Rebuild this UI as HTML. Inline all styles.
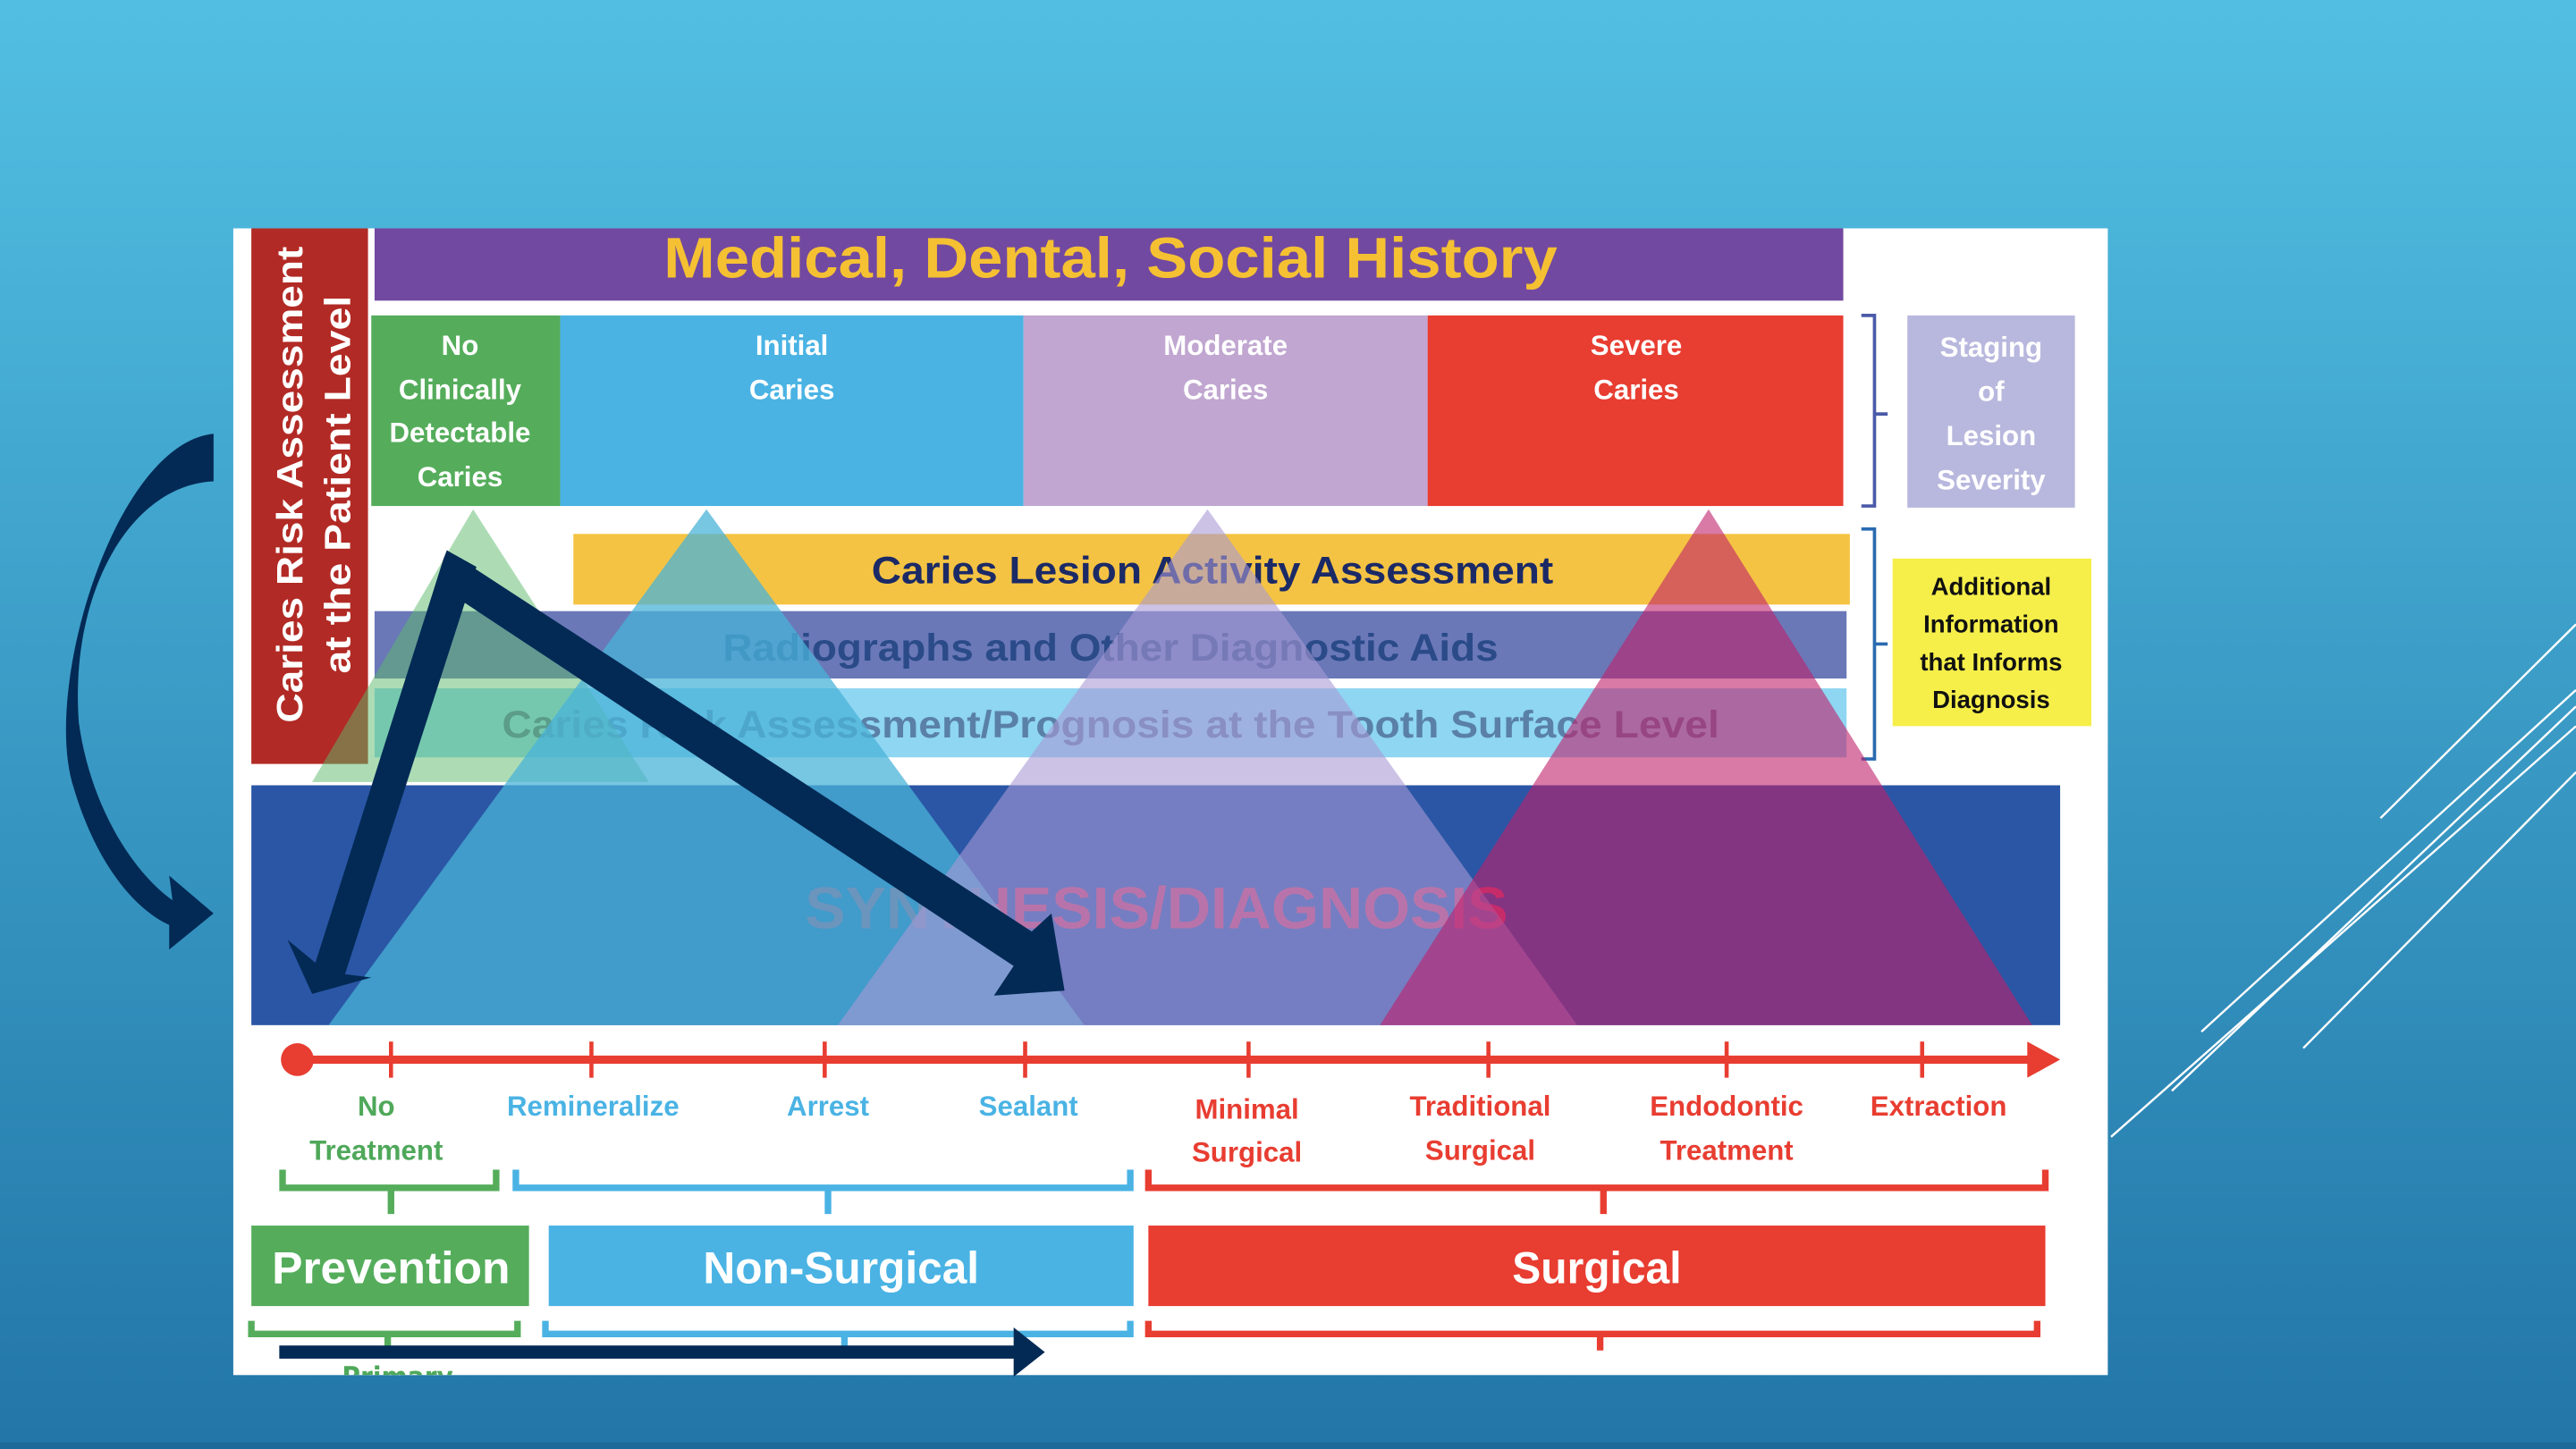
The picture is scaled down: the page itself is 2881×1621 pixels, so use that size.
<!DOCTYPE html>
<html><head><meta charset="utf-8"><style>
html,body{margin:0;padding:0;width:2881px;height:1621px;overflow:hidden}
svg{display:block}
text{font-family:"Liberation Sans",sans-serif}
.c{font-family:"DejaVu Sans Condensed","DejaVu Sans",sans-serif;font-weight:bold}
</style></head><body>
<svg width="2881" height="1621" viewBox="0 0 1568 882" preserveAspectRatio="none" xmlns="http://www.w3.org/2000/svg">
<defs>
<linearGradient id="bg" x1="0" y1="0" x2="0" y2="1">
<stop offset="0" stop-color="#52bfe2"/><stop offset="1" stop-color="#2276a8"/>
</linearGradient>
<clipPath id="pc"><rect x="0" y="0" width="1568" height="837"/></clipPath>
</defs>
<rect width="1568" height="882" fill="url(#bg)"/>
<rect x="0" y="878" width="1568" height="4" fill="#1d6a9a"/>
<g stroke="#fff" stroke-width="1.3">
<line x1="1568" y1="380" x2="1449" y2="498"/>
<line x1="1568" y1="420" x2="1340" y2="628"/>
<line x1="1568" y1="430" x2="1322" y2="664"/>
<line x1="1568" y1="442" x2="1285" y2="692"/>
<line x1="1568" y1="470" x2="1402" y2="638"/>
</g>
<rect x="142" y="139" width="1141" height="698" fill="#fff"/>
<rect x="153" y="139" width="71" height="326" fill="#b22a25"/>
<text transform="translate(184,295) rotate(-90)" text-anchor="middle" font-size="22" font-weight="bold" fill="#fff" textLength="290" lengthAdjust="spacingAndGlyphs">Caries Risk Assessment</text>
<text transform="translate(213,295) rotate(-90)" text-anchor="middle" font-size="22" font-weight="bold" fill="#fff" textLength="230" lengthAdjust="spacingAndGlyphs">at the Patient Level</text>
<rect x="228" y="139" width="894" height="44" fill="#7249a0"/>
<text x="676" y="169" text-anchor="middle" font-size="35" font-weight="bold" fill="#f5c132" textLength="544" lengthAdjust="spacingAndGlyphs">Medical, Dental, Social History</text>
<rect x="226" y="192" width="115" height="116" fill="#55ad5b"/>
<rect x="341" y="192" width="282" height="116" fill="#4ab3e4"/>
<rect x="623" y="192" width="246" height="116" fill="#c0a6d0"/>
<rect x="869" y="192" width="253" height="116" fill="#e83d31"/>
<g class="c" font-size="17" fill="#fff" text-anchor="middle">
<text x="280" y="216">No</text><text x="280" y="243">Clinically</text><text x="280" y="269">Detectable</text><text x="280" y="296">Caries</text>
<text x="482" y="216">Initial</text><text x="482" y="243">Caries</text>
<text x="746" y="216">Moderate</text><text x="746" y="243">Caries</text>
<text x="996" y="216">Severe</text><text x="996" y="243">Caries</text>
</g>
<path d="M1133 192 h8 v116 h-8 M1141 252 h8" fill="none" stroke="#4a5aa8" stroke-width="2"/>
<path d="M1133 322 h8 v140 h-8 M1141 392 h8" fill="none" stroke="#2a6ab0" stroke-width="2"/>
<rect x="1161" y="192" width="102" height="117" fill="#b8b8de"/>
<g class="c" font-size="17" fill="#fff" text-anchor="middle">
<text x="1212" y="217">Staging</text><text x="1212" y="244">of</text><text x="1212" y="271">Lesion</text><text x="1212" y="298">Severity</text>
</g>
<rect x="1152" y="340" width="121" height="102" fill="#f6ef4a"/>
<g class="c" font-size="15" fill="#111" text-anchor="middle">
<text x="1212" y="362">Additional</text><text x="1212" y="385">Information</text><text x="1212" y="408">that Informs</text><text x="1212" y="431">Diagnosis</text>
</g>
<rect x="349" y="325" width="777" height="43" fill="#f5c343"/>
<text x="738" y="355" text-anchor="middle" font-size="23" font-weight="bold" fill="#1b2a66" textLength="415" lengthAdjust="spacingAndGlyphs">Caries Lesion Activity Assessment</text>
<rect x="228" y="372" width="896" height="41" fill="#6a78b8"/>
<text x="676" y="402" text-anchor="middle" font-size="23" font-weight="bold" fill="#2a4a88" textLength="472" lengthAdjust="spacingAndGlyphs">Radiographs and Other Diagnostic Aids</text>
<rect x="228" y="419" width="896" height="42" fill="#8ed6f2"/>
<text x="676" y="449" text-anchor="middle" font-size="23" font-weight="bold" fill="#5a80a8" textLength="741" lengthAdjust="spacingAndGlyphs">Caries Risk Assessment/Prognosis at the Tooth Surface Level</text>
<rect x="153" y="478" width="1101" height="146" fill="#2a56a5"/>
<text x="704" y="565" text-anchor="middle" font-size="36" font-weight="bold" fill="#d03c6a" textLength="428" lengthAdjust="spacingAndGlyphs">SYNTHESIS/DIAGNOSIS</text>
<polygon points="288,310 190,476 395,476" fill="#5cb96a" opacity="0.5"/>
<polygon points="430,310 200,624 660,624" fill="#4ab3d8" opacity="0.75"/>
<polygon points="735,310 510,624 960,624" fill="#a89ad6" opacity="0.6"/>
<polygon points="1040,310 840,624 1237,624" fill="#c0206a" opacity="0.6"/>
<line x1="181" y1="645" x2="1238" y2="645" stroke="#e83d31" stroke-width="5"/>
<circle cx="181" cy="645" r="10" fill="#e83d31"/>
<polygon points="1234,634 1254,645 1234,656" fill="#e83d31"/>
<g stroke="#e83d31" stroke-width="2.5">
<line x1="238" y1="634" x2="238" y2="656"/><line x1="360" y1="634" x2="360" y2="656"/><line x1="502" y1="634" x2="502" y2="656"/><line x1="624" y1="634" x2="624" y2="656"/><line x1="760" y1="634" x2="760" y2="656"/><line x1="906" y1="634" x2="906" y2="656"/><line x1="1051" y1="634" x2="1051" y2="656"/><line x1="1170" y1="634" x2="1170" y2="656"/>
</g>
<g class="c" font-size="17" text-anchor="middle">
<g fill="#4fa85a"><text x="229" y="679">No</text><text x="229" y="706">Treatment</text></g>
<g fill="#4ab3e4"><text x="361" y="679">Remineralize</text><text x="504" y="679">Arrest</text><text x="626" y="679">Sealant</text></g>
<g fill="#e83d31"><text x="759" y="681">Minimal</text><text x="759" y="707">Surgical</text><text x="901" y="679">Traditional</text><text x="901" y="706">Surgical</text><text x="1051" y="679">Endodontic</text><text x="1051" y="706">Treatment</text><text x="1180" y="679">Extraction</text></g>
</g>
<g fill="none" stroke-width="4">
<path d="M172 712 v11 h130 v-11 M238 723 v16" stroke="#55ad5b"/>
<path d="M314 712 v11 h374 v-11 M504 723 v16" stroke="#4ab3e4"/>
<path d="M699 712 v11 h546 v-11 M976 723 v16" stroke="#e83d31"/>
<path d="M153 804 v8 h162 v-8 M236 812 v10" stroke="#55ad5b"/>
<path d="M332 804 v8 h356 v-8 M514 812 v10" stroke="#4ab3e4"/>
<path d="M699 804 v8 h541 v-8 M974 812 v10" stroke="#e83d31"/>
</g>
<rect x="153" y="746" width="169" height="49" fill="#55ad5b"/>
<rect x="334" y="746" width="356" height="49" fill="#4ab3e4"/>
<rect x="699" y="746" width="546" height="49" fill="#e83d31"/>
<g class="c" font-size="27" fill="#fff" text-anchor="middle">
<text x="238" y="781" textLength="145" lengthAdjust="spacingAndGlyphs">Prevention</text><text x="512" y="781" textLength="168" lengthAdjust="spacingAndGlyphs">Non-Surgical</text><text x="972" y="781" textLength="103" lengthAdjust="spacingAndGlyphs">Surgical</text>
</g>
<text x="242" y="844" class="c" font-size="17" fill="#4fa85a" text-anchor="middle" clip-path="url(#pc)">Primary</text>
<g fill="#032a55">
<polygon points="272,335 290,345 210,593 226,595 190,605 175,572 192,586 270,340"/>
<polygon points="272,335 292,348 628,567 640,556 648,603 605,606 617,588 280,365 268,353"/>
<path d="M130 264 C70 270 25 420 45 480 C60 530 85 555 103 563 L103 578 L130 556 L103 533 L105 548 C80 530 55 490 48 440 C42 360 80 295 130 293 Z"/>
<rect x="170" y="819" width="450" height="8"/>
<polygon points="617,808 636,823 617,838"/>
</g>
</svg>
</body></html>
